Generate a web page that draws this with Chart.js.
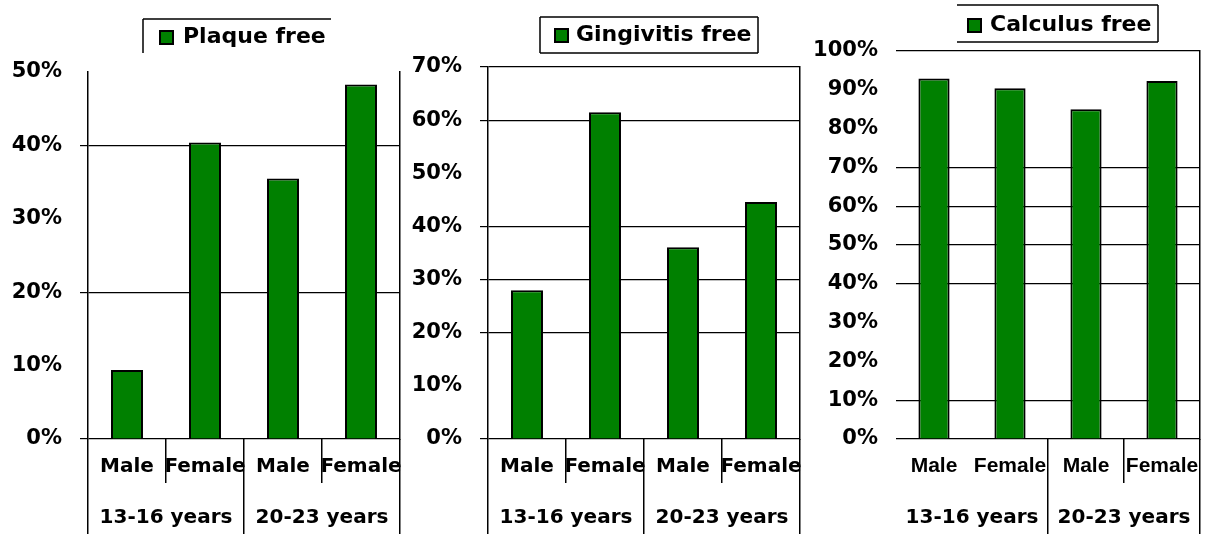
<!DOCTYPE html>
<html>
<head>
<meta charset="utf-8">
<script src="https://cdn.jsdelivr.net/npm/chart.js@4.4.0/dist/chart.umd.min.js"></script>
<style>
body { margin: 0; background: #fff; width: 1206px; height: 534px; position: relative; overflow: hidden; }
canvas { position: absolute; top: 0; }
</style>
</head>
<body>
<canvas id="c1" width="402" height="534" style="left:0px"></canvas>
<canvas id="c2" width="400" height="534" style="left:402px"></canvas>
<canvas id="c3" width="404" height="534" style="left:802px"></canvas>
<script>
// categories
var sexLabels = ['Male', 'Female', 'Male', 'Female'];
var ageGroups = ['13-16 years', '20-23 years'];

// series values (%)
var plaqueFree = [9.4, 40.4, 35.5, 48.3];
var gingivitisFree = [28.0, 61.5, 36.1, 44.6];
var calculusFree = [92.9, 90.4, 85.0, 92.3];

// y axis ranges (tick labels every 10%)
var plaqueMax = 50;
var gingivitisMax = 70;
var calculusMax = 100;
var tickStep = 10;

var GREEN = '#008000';
var FONT = '"DejaVu Sans", sans-serif';

// draws the boxed legend of the old spreadsheet chart
var boxLegend = {
	id: 'boxLegend',
	afterDraw: function(chart, args, o) {
		var ctx = chart.ctx;
		var ds = chart.data.datasets[0];
		var x0 = o.x, y0 = o.y, x1 = o.x + o.w, y1 = o.y + o.h;
		ctx.save();
		ctx.strokeStyle = '#000';
		ctx.lineWidth = 1.5;
		ctx.beginPath();
		if (o.sides.indexOf('t') >= 0) { ctx.moveTo(x0, y0); ctx.lineTo(x1, y0); }
		if (o.sides.indexOf('r') >= 0) { ctx.moveTo(x1, y0); ctx.lineTo(x1, y1); }
		if (o.sides.indexOf('b') >= 0) { ctx.moveTo(x0, y1); ctx.lineTo(x1, y1); }
		if (o.sides.indexOf('l') >= 0) { ctx.moveTo(x0, y0); ctx.lineTo(x0, y1); }
		ctx.stroke();
		ctx.fillStyle = ds.backgroundColor;
		ctx.fillRect(o.sx, o.sy, o.ss, o.ss);
		ctx.lineWidth = 2;
		ctx.strokeRect(o.sx, o.sy, o.ss, o.ss);
		ctx.fillStyle = '#000';
		ctx.font = 'bold 22px ' + FONT;
		ctx.textBaseline = 'middle';
		ctx.textAlign = 'left';
		ctx.fillText(ds.label, o.tx, o.ty);
		ctx.restore();
	}
};

function pick(list, last) {
	return function(c) {
		var i = c.type === 'tick' ? c.index : last;
		return list.indexOf(i) >= 0 ? '#000' : 'rgba(0,0,0,0)';
	};
}

function makeChart(id, label, values, max, o) {
	return new Chart(document.getElementById(id), {
		type: 'bar',
		data: {
			labels: sexLabels,
			datasets: [{
				label: label,
				data: values,
				xAxisID: 'x',
				yAxisID: 'y',
				backgroundColor: GREEN,
				borderColor: '#000',
				borderWidth: 2,
				barPercentage: 0.41,
				categoryPercentage: 1
			}]
		},
		options: {
			responsive: false,
			animation: false,
			devicePixelRatio: 1,
			layout: { padding: { top: o.top, right: o.right, left: 0, bottom: 0 } },
			plugins: {
				legend: { display: false },
				tooltip: { enabled: false },
				boxLegend: o.legend
			},
			scales: {
				x: {
					grid: { offset: true, drawOnChartArea: false, tickLength: 44, lineWidth: 1.5, color: pick(o.sexLines, 4) },
					border: { display: false },
					ticks: { color: '#000', font: o.xFont, padding: o.xPad, maxRotation: 0, minRotation: 0, autoSkip: false },
					afterFit: function(s) { s.height = 44; s.paddingLeft = 0; s.paddingRight = 0; }
				},
				x2: {
					type: 'category',
					labels: ageGroups,
					position: 'bottom',
					grid: { offset: true, drawOnChartArea: false, tickLength: 51, lineWidth: 1.5, color: pick(o.ageLines, 2) },
					border: { display: false },
					ticks: { color: '#000', font: { family: FONT, size: 20, weight: 'bold' }, padding: -28, maxRotation: 0, minRotation: 0, autoSkip: false },
					afterFit: function(s) { s.height = 51; s.paddingLeft = 0; s.paddingRight = 0; }
				},
				y: {
					min: 0,
					max: max,
					ticks: {
						stepSize: tickStep,
						color: '#000',
						padding: 18,
						font: { family: FONT, size: 21, weight: 'bold' },
						callback: function(v) { return v + '%'; }
					},
					grid: {
						tickLength: 8,
						drawTicks: o.drawTicks,
						lineWidth: 1.2,
						color: function(c) { return o.gridAt.indexOf(c.tick.value) >= 0 ? '#000' : 'rgba(0,0,0,0)'; }
					},
					border: { display: o.leftBorder, color: '#000', width: 1.5 },
					afterFit: function(s) { s.width = o.axisWidth; s.paddingTop = 0; s.paddingBottom = 0; }
				},
				y2: {
					position: 'right',
					grid: { display: false },
					ticks: { display: false },
					border: { display: true, color: '#000', width: 1.5 },
					afterFit: function(s) { s.width = 0; s.paddingTop = 0; s.paddingBottom = 0; }
				}
			}
		},
		plugins: [boxLegend]
	});
}

makeChart('c1', 'Plaque free', plaqueFree, plaqueMax, {
	top: 72, right: 2, axisWidth: 88,
	drawTicks: true, leftBorder: true,
	gridAt: [0, 20, 40],
	sexLines: [0, 1, 2, 3, 4], ageLines: [0, 1, 2],
	xFont: { family: FONT, size: 20, weight: 'bold' }, xPad: -28,
	legend: { x: 143, y: 19, w: 188, h: 34, sides: 'tl', sx: 160, sy: 31, ss: 13, tx: 183, ty: 37 }
});

makeChart('c2', 'Gingivitis free', gingivitisFree, gingivitisMax, {
	top: 67, right: 2, axisWidth: 86,
	drawTicks: true, leftBorder: true,
	gridAt: [0, 20, 30, 40, 60, 70],
	sexLines: [0, 1, 2, 3, 4], ageLines: [0, 1, 2],
	xFont: { family: FONT, size: 20, weight: 'bold' }, xPad: -28,
	legend: { x: 138, y: 17, w: 218, h: 36, sides: 'trbl', sx: 153, sy: 29, ss: 13, tx: 174, ty: 35 }
});

makeChart('c3', 'Calculus free', calculusFree, calculusMax, {
	top: 51, right: 6, axisWidth: 94,
	drawTicks: false, leftBorder: false,
	gridAt: [0, 10, 40, 50, 60, 70, 100],
	sexLines: [2, 3, 4], ageLines: [1, 2],
	xFont: { family: '"Liberation Sans Narrow", "Liberation Sans", Arial, sans-serif', size: 21, weight: 'bold' }, xPad: -29,
	legend: { x: 155, y: 5, w: 201, h: 37, sides: 'trb', sx: 166, sy: 19, ss: 13, tx: 188, ty: 25 }
});
</script>
</body>
</html>
